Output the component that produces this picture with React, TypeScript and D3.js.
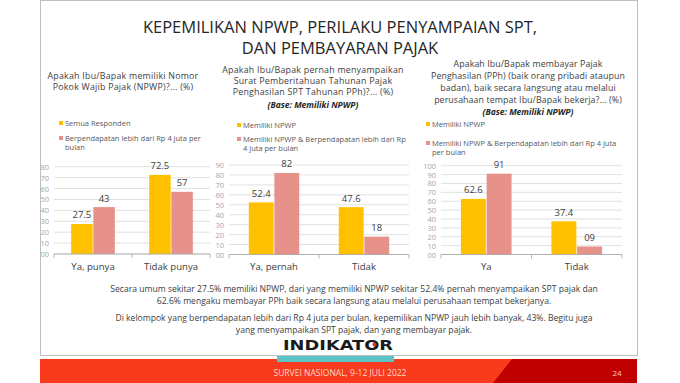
import React from "react";
import * as d3 from "d3";

const titleLines = ["KEPEMILIKAN NPWP, PERILAKU PENYAMPAIAN SPT,", "DAN PEMBAYARAN PAJAK"];

const categories1 = ["Ya, punya", "Tidak punya"];
const seriesA1 = [27.5, 72.5];
const seriesB1 = [43, 57];
const legend1 = [["Semua Responden"], ["Berpendapatan lebih dari Rp 4 juta per", "bulan"]];
const question1 = ["Apakah Ibu/Bapak memiliki Nomor", "Pokok Wajib Pajak (NPWP)?... (%)"];
const max1 = 80;

const categories2 = ["Ya, pernah", "Tidak"];
const seriesA2 = [52.4, 47.6];
const seriesB2 = [82, 18];
const legend2 = [["Memiliki NPWP"], ["Memiliki NPWP & Berpendapatan lebih dari Rp", "4 juta per bulan"]];
const question2 = ["Apakah Ibu/Bapak pernah menyampaikan", "Surat Pemberitahuan Tahunan Pajak", "Penghasilan SPT Tahunan PPh)?... (%)"];
const max2 = 90;

const categories3 = ["Ya", "Tidak"];
const seriesA3 = [62.6, 37.4];
const seriesB3 = [91, 9];
const legend3 = [["Memiliki NPWP"], ["Memiliki NPWP & Berpendapatan lebih dari Rp 4 juta", "per bulan"]];
const question3 = ["Apakah Ibu/Bapak membayar Pajak", "Penghasilan (PPh) (baik orang pribadi ataupun", "badan), baik secara langsung atau melalui", "perusahaan tempat Ibu/Bapak bekerja?... (%)"];
const max3 = 100;

const baseNote = "(Base: Memiliki NPWP)";

const paragraph = [
  "Secara umum sekitar 27.5% memiliki NPWP, dari yang memiliki NPWP sekitar 52.4% pernah menyampaikan SPT pajak dan",
  "62.6% mengaku membayar PPh baik secara langsung atau melalui perusahaan tempat bekerjanya.",
  "Di kelompok yang berpendapatan lebih dari Rp 4 juta per bulan, kepemilikan NPWP jauh lebih banyak, 43%. Begitu juga",
  "yang menyampaikan SPT pajak, dan yang membayar pajak.",
];
const footerText = "SURVEI NASIONAL, 9-12 JULI 2022";
const pageNumber = "24";
const logoText = "INDIKATOR";

const YELLOW = "#FFC000";
const PINK = "#E6928A";
const FONT = "'Open Sans', 'DejaVu Sans', sans-serif";

const fmt = (v: number) => (Number.isInteger(v) ? String(v).padStart(2, "0") : v.toFixed(1));

type ChartProps = {
  x0: number; x1: number; yBase: number; yTop: number; max: number;
  categories: string[]; a: number[]; b: number[];
  legend: string[][]; legendX: number; legendYs: number[][];
  question: string[]; qx: number; qys: number[]; base?: boolean; qSpacing?: number;
};

function Chart(p: ChartProps) {
  const y = d3.scaleLinear().domain([0, p.max]).range([p.yBase, p.yTop]);
  const x = d3.scaleBand<string>().domain(p.categories).range([p.x0, p.x1]).paddingInner(0.44).paddingOuter(0.22);
  const inner = d3.scaleBand<string>().domain(["a", "b"]).range([0, x.bandwidth()]).paddingInner(0.03);
  const ticks = d3.range(0, p.max + 1, 10);
  const step = (p.x1 - p.x0) / p.categories.length;
  const bars: { k: string; v: number; c: string; cat: string }[] = [];
  p.categories.forEach((c, i) => {
    bars.push({ k: "a", v: p.a[i], c: YELLOW, cat: c });
    bars.push({ k: "b", v: p.b[i], c: PINK, cat: c });
  });
  return (
    <g fontFamily={FONT}>
      {p.question.map((t, i) => (
        <text key={i} x={p.qx} y={p.qys[i]} textAnchor="middle" fontSize={8.8} letterSpacing={p.qSpacing ?? 0.25} fill="#404040" dominantBaseline="central">{t}</text>
      ))}
      {p.base && (
        <text x={p.qx} y={p.qys[p.question.length]} textAnchor="middle" fontSize={8.5} fill="#262626" fontWeight="bold" fontStyle="italic" dominantBaseline="central">{baseNote}</text>
      )}
      {p.legend.map((lines, i) => (
        <g key={i}>
          <rect x={p.legendX} y={p.legendYs[i][0] - 2} width={4} height={4} fill={i === 0 ? YELLOW : PINK} />
          {lines.map((t, j) => (
            <text key={j} x={p.legendX + 6} y={p.legendYs[i][j]} fontSize={7.5} fill="#595959" dominantBaseline="central">{t}</text>
          ))}
        </g>
      ))}
      {ticks.map((t) => (
        <g key={t}>
          <line x1={p.x0} x2={p.x1} y1={y(t)} y2={y(t)} stroke="#D9D9D9" strokeWidth={0.8} />
          <text x={p.x0 - 5} y={y(t)} textAnchor="end" fontSize={7.5} fill="#A6A6A6" dominantBaseline="central">{fmt(t)}</text>
        </g>
      ))}
      {bars.map((d, i) => (
        <rect key={i} x={(x(d.cat) as number) + (inner(d.k) as number)} y={y(d.v)} width={inner.bandwidth()} height={p.yBase - y(d.v)} fill={d.c} />
      ))}
      <line x1={p.x0} x2={p.x1} y1={p.yBase} y2={p.yBase} stroke="#A6A6A6" strokeWidth={0.8} />
      {d3.range(0, p.categories.length + 1).map((i) => (
        <line key={i} x1={p.x0 + i * step} x2={p.x0 + i * step} y1={p.yBase} y2={p.yBase + 4} stroke="#A6A6A6" strokeWidth={0.8} />
      ))}
      {bars.map((d, i) => (
        <text key={i} x={(x(d.cat) as number) + (inner(d.k) as number) + inner.bandwidth() / 2} y={y(d.v) - 9} textAnchor="middle" fontSize={9.5} fill="#404040" dominantBaseline="central">{fmt(d.v)}</text>
      ))}
      {p.categories.map((c) => (
        <text key={c} x={(x(c) as number) + x.bandwidth() / 2} y={p.yBase + 12} textAnchor="middle" fontSize={9.6} fill="#404040" dominantBaseline="central">{c}</text>
      ))}
    </g>
  );
}

export default function App() {
  return (
    <svg width={680} height={383} style={{ position: "absolute", left: 0, top: 0, background: "#fff" }}>
      <rect x={0} y={0} width={680} height={383} fill="#fff" />
      <rect x={40.5} y={0.5} width={597} height={355} fill="#fff" stroke="#BFBFBF" strokeWidth={1} />
      {titleLines.map((t, i) => (
        <text key={i} x={340} y={26 + i * 21} textAnchor="middle" fontSize={16.5} fill="#262626" fontFamily={FONT} dominantBaseline="central">{t}</text>
      ))}
      <Chart x0={54} x1={210} yBase={254} yTop={166.7} max={max1} categories={categories1} a={seriesA1} b={seriesB1}
        legend={legend1} legendX={59} legendYs={[[123], [138, 147]]} question={question1} qx={123} qys={[76, 87]} />
      <Chart x0={229} x1={409} yBase={254.5} yTop={165} max={max2} categories={categories2} a={seriesA2} b={seriesB2}
        legend={legend2} legendX={237} legendYs={[[125], [139, 148]]} question={question2} qx={313} qys={[70, 81, 92, 104]} base />
      <Chart x0={441} x1={622} yBase={254.5} yTop={165.7} max={max3} categories={categories3} a={seriesA3} b={seriesB3}
        legend={legend3} legendX={426} legendYs={[[124], [143, 152]]} question={question3} qx={528} qys={[64, 76, 88, 100, 111]} base qSpacing={0.1} />
      {paragraph.map((t, i) => (
        <text key={i} x={354} y={[289, 301, 318, 330][i]} textAnchor="middle" fontSize={8.6} fill="#404040" fontFamily={FONT} dominantBaseline="central">{t}</text>
      ))}
      <rect x={40} y={359} width={597} height={24} fill="#FA3A1C" />
      <polygon points="512,359 637,359 637,383 493,383" fill="#C00000" />
      <rect x={277} y={356} width={117} height={6} fill="#5CC4C4" />
      <text x={338} y={350} textAnchor="middle" fontSize={14.5} fontWeight="bold" fill="#1a1a1a" fontFamily="'DejaVu Sans', sans-serif" textLength={110} lengthAdjust="spacingAndGlyphs">{logoText}</text>
      <circle cx={374.5} cy={344.5} r={2} fill="#E03020" />
      <text x={340} y={372} textAnchor="middle" fontSize={8.5} fill="#FFD5C8" fontFamily={FONT} dominantBaseline="central">{footerText}</text>
      <text x={617} y={372} textAnchor="middle" fontSize={8} fill="#F6D0C8" fontFamily={FONT} dominantBaseline="central">{pageNumber}</text>
    </svg>
  );
}
